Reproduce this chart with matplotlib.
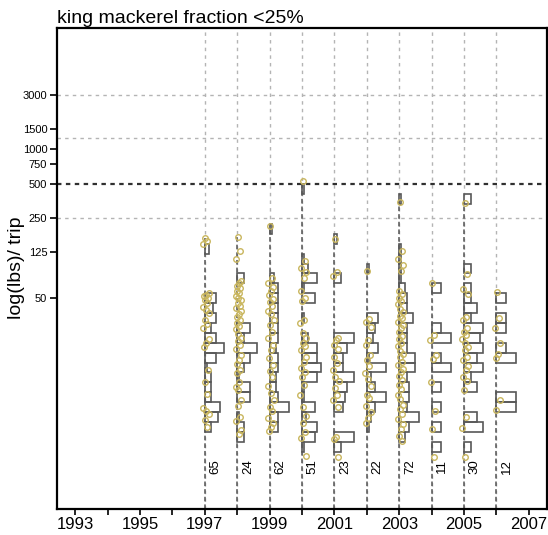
import numpy as np
import matplotlib
matplotlib.use("Agg")
import matplotlib.pyplot as plt

plt.rcParams['font.family'] = ['Liberation Sans', 'DejaVu Sans']

years = [1997, 1998, 1999, 2000, 2001, 2002, 2003, 2004, 2005, 2006]
n_trips = [65, 24, 62, 51, 23, 22, 72, 11, 30, 12]

ytick_vals = [50, 125, 250, 500, 750, 1000, 1500, 3000]
hgrid_vals = [3000, 1250, 250]

# histogram counts: lower edge of 0.2 wide log(lbs) bin -> trips
bars_1997 = {4.8: 2, 3.8: 5, 3.6: 4, 3.4: 5, 3.2: 3, 3.0: 5, 2.8: 9, 2.6: 5, 2.4: 1,
             2.2: 3, 2.0: 3, 1.8: 3, 1.6: 7, 1.4: 6, 1.2: 3}
bars_1998 = {4.2: 3, 3.2: 6, 3.0: 3, 2.8: 9, 2.6: 6, 2.4: 3, 2.2: 1, 2.0: 6, 1.8: 6,
             1.4: 1, 1.2: 3, 1.0: 3}
bars_1999 = {5.2: 1, 4.2: 2, 4.0: 4, 3.8: 4, 3.6: 4, 3.4: 4, 3.2: 4, 3.0: 4, 2.8: 3,
             2.6: 4, 2.4: 4, 2.2: 3, 2.0: 3, 1.8: 4, 1.6: 9, 1.4: 4, 1.2: 4}
bars_2000 = {6.0: 1, 4.6: 1, 4.4: 3, 4.2: 7, 4.0: 1, 3.8: 6, 3.4: 1, 3.0: 3, 2.8: 7,
             2.6: 7, 2.4: 9, 2.2: 7, 2.0: 1, 1.8: 1, 1.6: 6, 1.4: 2, 1.2: 7, 1.0: 6, 0.8: 1}
bars_2001 = {5.0: 1, 4.2: 3, 3.0: 9, 2.8: 6, 2.6: 4, 2.4: 4, 2.2: 9, 2.0: 6, 1.8: 5,
             1.6: 4, 1.0: 9, 0.8: 3}
bars_2002 = {4.4: 1, 3.4: 5, 3.2: 4, 3.0: 3, 2.8: 5, 2.6: 1, 2.4: 9, 2.2: 2, 2.0: 4,
             1.8: 9, 1.6: 4, 1.4: 2, 1.2: 1}
bars_2003 = {5.8: 1, 4.8: 1, 4.6: 1, 4.4: 1, 4.2: 1, 4.0: 3, 3.8: 4, 3.6: 4, 3.4: 7,
             3.2: 4, 3.0: 4, 2.8: 4, 2.6: 8, 2.4: 8, 2.2: 4, 2.0: 5, 1.8: 5, 1.6: 4,
             1.4: 10, 1.2: 5, 1.0: 3}
bars_2004 = {4.0: 1, 3.2: 1, 3.0: 2, 2.6: 1, 2.4: 2, 2.0: 1, 1.6: 1, 1.2: 1, 0.8: 1}
bars_2005 = {5.8: 2, 4.4: 2, 4.0: 2, 3.8: 2, 3.6: 4, 3.4: 2, 3.2: 6, 3.0: 5, 2.8: 6,
             2.6: 4, 2.4: 6, 2.2: 2, 2.0: 4, 1.4: 4, 1.2: 6, 0.8: 2}
bars_2006 = {3.8: 1, 3.4: 1, 3.2: 1, 2.8: 1, 2.6: 2, 1.8: 2, 1.6: 2}

# single trips, log(lbs)
pts_1997 = [5.12, 5.06, 5.0, 4.0, 3.97, 3.94, 3.9, 3.86, 3.8, 3.72, 3.67, 3.6, 3.45,
            3.38, 3.3, 3.07, 2.99, 2.91, 2.45, 2.21, 1.97, 1.68, 1.62, 1.55, 1.44, 1.3]
pts_1998 = [5.14, 4.85, 4.69, 4.25, 4.2, 4.15, 4.1, 4.05, 4.0, 3.95, 3.9, 3.86, 3.81,
            3.75, 3.7, 3.64, 3.58, 3.52, 3.46, 3.4, 3.33, 3.27, 3.18, 3.1, 3.03, 2.95,
            2.87, 2.75, 2.66, 2.58, 2.45, 2.38, 2.2, 2.1, 2.05, 1.84, 1.72, 1.5, 1.42,
            1.24, 1.16]
pts_1999 = [5.36, 4.3, 4.2, 4.12, 4.05, 3.96, 3.88, 3.83, 3.74, 3.64, 3.58, 3.45, 3.36,
            3.22, 3.1, 2.96, 2.85, 2.7, 2.55, 2.43, 2.3, 2.12, 1.98, 1.85, 1.7, 1.63,
            1.48, 1.38, 1.3, 1.22]
pts_2000 = [6.26, 4.65, 4.52, 4.42, 4.3, 4.04, 3.9, 3.85, 3.45, 3.4, 3.2, 3.1, 3.0,
            2.93, 2.85, 2.72, 2.62, 2.48, 2.4, 2.3, 2.15, 1.95, 1.7, 1.52, 1.38, 1.2,
            1.08, 0.72]
pts_2001 = [5.1, 4.42, 4.35, 3.1, 3.05, 2.95, 2.88, 2.72, 2.6, 2.45, 2.3, 2.22, 2.08,
            1.95, 1.85, 1.7, 1.1, 1.05, 0.7]
pts_2002 = [4.45, 3.47, 3.42, 3.32, 3.05, 2.95, 2.75, 2.65, 2.52, 2.38, 2.27, 2.12,
            1.95, 1.88, 1.72, 1.6, 1.47, 1.38]
pts_2003 = [5.85, 4.86, 4.7, 4.58, 4.45, 4.05, 3.98, 3.91, 3.84, 3.78, 3.69, 3.63,
            3.55, 3.5, 3.41, 3.36, 3.29, 3.22, 3.14, 3.08, 3.0, 2.93, 2.84, 2.78, 2.71,
            2.62, 2.56, 2.47, 2.4, 2.33, 2.24, 2.15, 2.06, 1.95, 1.86, 1.74, 1.66,
            1.55, 1.46, 1.35, 1.26, 1.12, 1.02]
pts_2004 = [4.2, 3.15, 3.05, 2.75, 2.68, 2.2, 1.62, 1.25, 0.7]
pts_2005 = [5.83, 4.38, 4.08, 3.98, 3.53, 3.45, 3.3, 3.22, 3.16, 3.08, 3.0, 2.92,
            2.85, 2.72, 2.65, 2.52, 2.45, 2.3, 2.22, 2.05, 1.5, 1.28, 0.7]
pts_2006 = [4.02, 3.5, 3.3, 3.0, 2.78, 2.7, 1.85, 1.65]

all_bars = [bars_1997, bars_1998, bars_1999, bars_2000, bars_2001,
            bars_2002, bars_2003, bars_2004, bars_2005, bars_2006]
all_pts = [pts_1997, pts_1998, pts_1999, pts_2000, pts_2001,
           pts_2002, pts_2003, pts_2004, pts_2005, pts_2006]

bin_h = 0.2
bar_w = 0.6
jit = [0.02, 0.08, -0.04, 0.12, 0.05, -0.02, 0.1, 0.0, 0.07, -0.05, 0.03, 0.13]
ylo, yhi = -0.36, 9.36

fig = plt.figure(figsize=(5.48, 5.35), dpi=100)
ax = fig.add_axes([57/548, 26/535, 490/548, 481/535])

# grid
for yr in years:
    ax.axvline(yr, color='#b4b4b4', ls=(0, (2.5, 3)), lw=1, zorder=1)
for v in hgrid_vals:
    ax.axhline(np.log(v), color='#b4b4b4', ls=(0, (2.5, 3)), lw=1, zorder=1)
ax.axhline(np.log(500), color='#303030', ls=(0, (2, 2)), lw=1.6, zorder=1)

for yr, bars, pts, n in zip(years, all_bars, all_pts, n_trips):
    ax.plot([yr, yr], [ylo, max(pts)], color='#555555', ls=(0, (3, 2)), lw=1.1, zorder=2)
    lo = list(bars.keys())
    cnt = np.array(list(bars.values()), dtype=float)
    ax.barh(lo, cnt / cnt.max() * bar_w, height=bin_h, left=yr, align='edge',
            fill=False, edgecolor='#585858', linewidth=1.2, zorder=3)
    xs = [yr + jit[i % len(jit)] for i in range(len(pts))]
    ax.plot(xs, pts, 'o', mfc='none', mec='#c9b65e', ms=4, mew=1.0, zorder=4)
    ax.text(yr + 0.33, 0.5, str(n), rotation=90, ha='center', va='center', fontsize=9.5)

ax.set_xlim(1992.44, 2007.56)
ax.set_ylim(ylo, yhi)
ax.set_xticks(range(1993, 2008))
ax.set_xticklabels([str(y) if y % 2 == 1 else '' for y in range(1993, 2008)], fontsize=12)
ax.set_yticks(np.log(ytick_vals))
ax.set_yticklabels([str(v) for v in ytick_vals], fontsize=8)
ax.tick_params(axis='x', length=4, width=1.2, pad=2)
ax.tick_params(axis='y', length=5, width=1.2, pad=2)
for s in ax.spines.values():
    s.set_linewidth(1.6)

fig.text(8/548, 1 - 268/535, 'log(lbs)/ trip', rotation=90, ha='left', va='center', fontsize=14)
fig.text(57/548, 1 - 27/535, 'king mackerel fraction <25%', ha='left', va='bottom', fontsize=14)

fig.savefig('out.png', dpi=100)
